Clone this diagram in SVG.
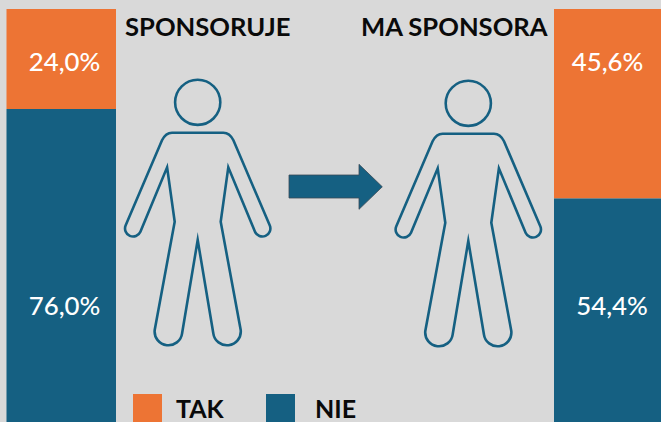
<svg xmlns="http://www.w3.org/2000/svg" width="661" height="422" viewBox="0 0 661 422">
<style>
.o{fill:#ed7434}
.b{fill:#156082}
.v{font-family:Lato,"Liberation Sans",sans-serif;font-size:25.8px;font-weight:500;fill:#fff;text-anchor:middle}
.h{font-family:Lato,"Liberation Sans",sans-serif;font-size:25.6px;font-weight:700;fill:#0a0a0a}
.l{font-family:Lato,"Liberation Sans",sans-serif;font-size:25px;font-weight:700;fill:#0a0a0a}
.p{fill:none;stroke:#156082;stroke-width:2.6;stroke-miterlimit:10}
</style>
<defs>
<g id="person">
<circle class="p" cx="0" cy="0" r="22.6"/>
<path class="p" d="M-25.7,30.4 H25.7 C30,30.4 33.5,33.5 35.7,38 L72,123 A8,8 0 0 1 57.3,129.4 L30.6,65 L23,119.4 L43,227.7 A13.8,13.8 0 0 1 15.6,231 L0,137.7 L-15.6,231 A13.8,13.8 0 0 1 -43,227.7 L-23,119.4 L-30.6,65 L-57.3,129.4 A8,8 0 0 1 -72,123 L-35.7,38 C-33.5,33.5 -30,30.4 -25.7,30.4 Z"/>
</g>
</defs>
<rect width="661" height="422" fill="#d9d9d9"/>
<g id="bar-left">
<rect class="o" x="6.5" y="9" width="109.5" height="100"/>
<rect class="b" x="6.5" y="109" width="109.5" height="313"/>
<text class="v" x="64.5" y="70.5">24,0%</text>
<text class="v" x="64.5" y="315">76,0%</text>
</g>
<g id="bar-right">
<rect class="o" x="554" y="9" width="107" height="189.5"/>
<rect class="b" x="554" y="198.5" width="107" height="223.5"/>
<text class="v" x="607.5" y="70.5">45,6%</text>
<text class="v" x="612" y="315">54,4%</text>
</g>
<g id="title-left"><text class="h" x="125" y="35.5">SPONSORUJE</text></g>
<g id="title-right"><text class="h" x="361" y="35.5">MA SPONSORA</text></g>
<g id="person-left"><use href="#person" x="197.7" y="102.3"/></g>
<g id="person-right"><use href="#person" x="468.3" y="103.3"/></g>
<g id="connectors">
<path class="b" stroke="#3a4a55" stroke-width="0.8" d="M289,175 H359 V164.3 L382.3,186.8 L359,209.3 V198 H289 Z"/>
</g>
<g id="legend-tak">
<rect class="o" x="133" y="394" width="29" height="28"/>
<text class="l" x="176" y="418">TAK</text>
</g>
<g id="legend-nie">
<rect class="b" x="266" y="394" width="29" height="28"/>
<text class="l" x="315" y="418">NIE</text>
</g>
</svg>
